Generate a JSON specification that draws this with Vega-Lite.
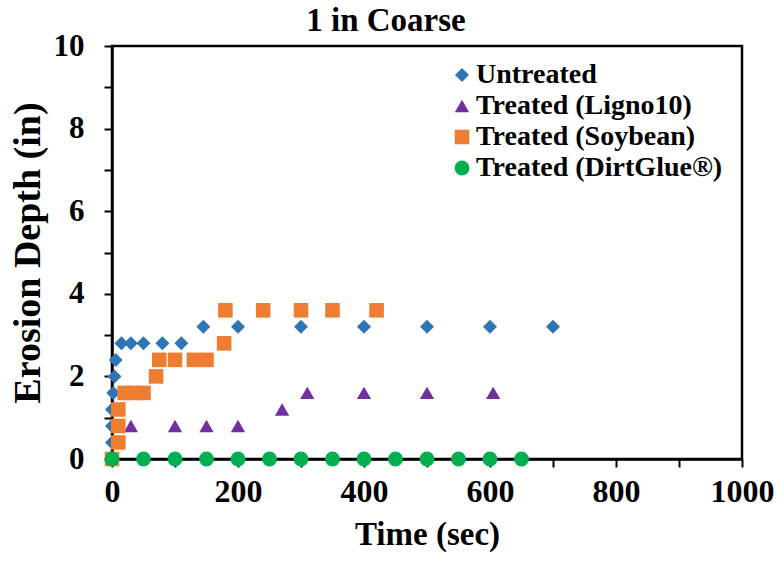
{
  "$schema": "https://vega.github.io/schema/vega-lite/v6.json",
  "width": 630,
  "height": 413,
  "autosize": "none",
  "padding": {"left": 112, "top": 46, "right": 39, "bottom": 104},
  "background": "white",
  "title": {"text": "1 in Coarse", "font": "Liberation Serif", "fontWeight": "bold", "fontSize": 33, "color": "black", "anchor": "middle", "frame": "group", "dx": -41, "offset": -8},
  "config": {
    "view": {"stroke": "black", "strokeWidth": 2.5},
    "axis": {"domainColor": "black", "domainWidth": 2.5, "tickColor": "black", "tickWidth": 2, "tickSize": 8, "grid": false, "labelFont": "Liberation Serif", "labelFontWeight": "bold", "labelColor": "black", "titleFont": "Liberation Serif", "titleFontWeight": "bold", "titleColor": "black", "labelOverlap": false, "labelFlush": false, "labelBound": false}
  },
  "data": {"values": [
    {"s": "Untreated", "t": 0, "d": 0},
    {"s": "Untreated", "t": 0, "d": 0.4},
    {"s": "Untreated", "t": 0, "d": 0.8},
    {"s": "Untreated", "t": 0, "d": 1.2},
    {"s": "Untreated", "t": 2, "d": 1.6},
    {"s": "Untreated", "t": 4, "d": 2.0},
    {"s": "Untreated", "t": 6, "d": 2.4},
    {"s": "Untreated", "t": 15, "d": 2.8},
    {"s": "Untreated", "t": 30, "d": 2.8},
    {"s": "Untreated", "t": 50, "d": 2.8},
    {"s": "Untreated", "t": 80, "d": 2.8},
    {"s": "Untreated", "t": 110, "d": 2.8},
    {"s": "Untreated", "t": 145, "d": 3.2},
    {"s": "Untreated", "t": 200, "d": 3.2},
    {"s": "Untreated", "t": 300, "d": 3.2},
    {"s": "Untreated", "t": 400, "d": 3.2},
    {"s": "Untreated", "t": 500, "d": 3.2},
    {"s": "Untreated", "t": 600, "d": 3.2},
    {"s": "Untreated", "t": 700, "d": 3.2},
    {"s": "Treated (Ligno10)", "t": 0, "d": 0},
    {"s": "Treated (Ligno10)", "t": 30, "d": 0.8},
    {"s": "Treated (Ligno10)", "t": 100, "d": 0.8},
    {"s": "Treated (Ligno10)", "t": 150, "d": 0.8},
    {"s": "Treated (Ligno10)", "t": 200, "d": 0.8},
    {"s": "Treated (Ligno10)", "t": 270, "d": 1.2},
    {"s": "Treated (Ligno10)", "t": 310, "d": 1.6},
    {"s": "Treated (Ligno10)", "t": 400, "d": 1.6},
    {"s": "Treated (Ligno10)", "t": 500, "d": 1.6},
    {"s": "Treated (Ligno10)", "t": 605, "d": 1.6},
    {"s": "Treated (Soybean)", "t": 0, "d": 0},
    {"s": "Treated (Soybean)", "t": 10, "d": 0.4},
    {"s": "Treated (Soybean)", "t": 10, "d": 0.8},
    {"s": "Treated (Soybean)", "t": 10, "d": 1.2},
    {"s": "Treated (Soybean)", "t": 20, "d": 1.6},
    {"s": "Treated (Soybean)", "t": 35, "d": 1.6},
    {"s": "Treated (Soybean)", "t": 50, "d": 1.6},
    {"s": "Treated (Soybean)", "t": 70, "d": 2.0},
    {"s": "Treated (Soybean)", "t": 75, "d": 2.4},
    {"s": "Treated (Soybean)", "t": 100, "d": 2.4},
    {"s": "Treated (Soybean)", "t": 130, "d": 2.4},
    {"s": "Treated (Soybean)", "t": 150, "d": 2.4},
    {"s": "Treated (Soybean)", "t": 178, "d": 2.8},
    {"s": "Treated (Soybean)", "t": 180, "d": 3.6},
    {"s": "Treated (Soybean)", "t": 240, "d": 3.6},
    {"s": "Treated (Soybean)", "t": 300, "d": 3.6},
    {"s": "Treated (Soybean)", "t": 350, "d": 3.6},
    {"s": "Treated (Soybean)", "t": 420, "d": 3.6},
    {"s": "Treated (DirtGlue®)", "t": 0, "d": 0},
    {"s": "Treated (DirtGlue®)", "t": 50, "d": 0},
    {"s": "Treated (DirtGlue®)", "t": 100, "d": 0},
    {"s": "Treated (DirtGlue®)", "t": 150, "d": 0},
    {"s": "Treated (DirtGlue®)", "t": 200, "d": 0},
    {"s": "Treated (DirtGlue®)", "t": 250, "d": 0},
    {"s": "Treated (DirtGlue®)", "t": 300, "d": 0},
    {"s": "Treated (DirtGlue®)", "t": 350, "d": 0},
    {"s": "Treated (DirtGlue®)", "t": 400, "d": 0},
    {"s": "Treated (DirtGlue®)", "t": 450, "d": 0},
    {"s": "Treated (DirtGlue®)", "t": 500, "d": 0},
    {"s": "Treated (DirtGlue®)", "t": 550, "d": 0},
    {"s": "Treated (DirtGlue®)", "t": 600, "d": 0},
    {"s": "Treated (DirtGlue®)", "t": 650, "d": 0}
  ]},
  "mark": {"type": "point", "filled": true, "opacity": 1},
  "encoding": {
    "x": {"field": "t", "type": "quantitative", "scale": {"domain": [0, 1000], "nice": false, "zero": false}, "axis": {"title": "Time (sec)", "format": "d", "values": [0,100,200,300,400,500,600,700,800,900,1000], "labelExpr": "datum.value % 200 === 0 ? datum.label : ''", "labelFontSize": 32, "titleFontSize": 33, "labelPadding": 9, "titlePadding": 11}},
    "y": {"field": "d", "type": "quantitative", "scale": {"domain": [0, 10], "nice": false, "zero": false}, "axis": {"title": "Erosion Depth (in)", "values": [0,1,2,3,4,5,6,7,8,9,10], "labelExpr": "datum.value % 2 === 0 ? datum.label : ''", "labelFontSize": 31, "titleFontSize": 38, "labelPadding": 20, "titlePadding": 6}},
    "color": {"field": "s", "type": "nominal", "scale": {"domain": ["Untreated", "Treated (Ligno10)", "Treated (Soybean)", "Treated (DirtGlue®)"], "range": ["#2E75B6", "#7030A0", "#ED7D31", "#00B050"]},
      "legend": {"title": null, "orient": "none", "legendX": 336, "legendY": 15, "padding": 0, "labelFont": "Liberation Serif", "labelFontWeight": "bold", "labelFontSize": 28, "labelColor": "black", "labelOffset": 0, "rowPadding": 3, "symbolSize": 150, "labelLimit": 400}},
    "shape": {"field": "s", "type": "nominal", "scale": {"domain": ["Untreated", "Treated (Ligno10)", "Treated (Soybean)", "Treated (DirtGlue®)"], "range": ["diamond", "triangle-up", "square", "circle"]}},
    "size": {"field": "s", "type": "nominal", "scale": {"domain": ["Untreated", "Treated (Ligno10)", "Treated (Soybean)", "Treated (DirtGlue®)"], "range": [196, 220, 150, 196]}, "legend": null}
  }
}
